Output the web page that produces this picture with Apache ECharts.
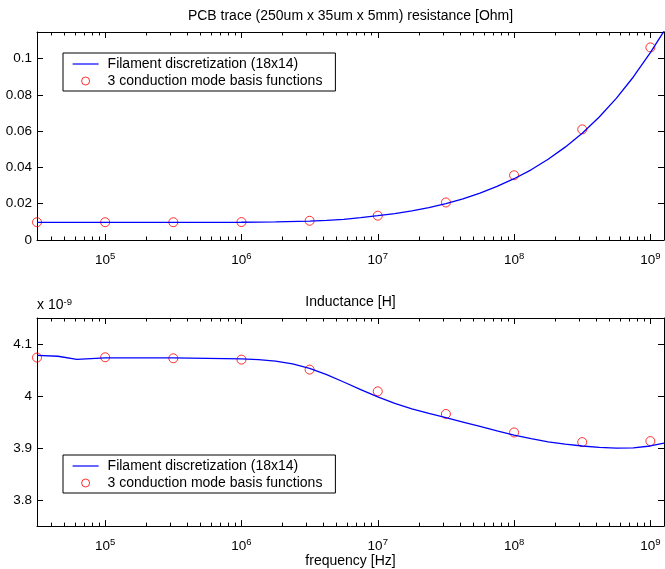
<!DOCTYPE html>
<html><head><meta charset="utf-8">
<script src="https://cdn.jsdelivr.net/npm/echarts@6/dist/echarts.min.js"></script>
<style>html,body{margin:0;padding:0;background:#fff}#c{width:665px;height:569px}</style>
</head><body><div id="c"></div>
<script>
// ---- data ----
const resFreq = [3.1623e4, 1e5, 3.1623e5, 1e6, 1.7783e6, 3.1623e6, 4.2170e6, 5.6234e6, 7.4989e6, 1e7, 1.3335e7, 1.7783e7, 2.3714e7, 3.1623e7, 4.2170e7, 5.6234e7, 7.4989e7, 1e8, 1.3335e8, 1.7783e8, 2.3714e8, 3.1623e8, 4.2170e8, 5.6234e8, 7.4989e8, 1e9, 1.2589e9];
const resLine = [0.0097, 0.0097, 0.0097, 0.0098, 0.0100, 0.0104, 0.0108, 0.0114, 0.0123, 0.0134, 0.0146, 0.0161, 0.0179, 0.0200, 0.0227, 0.0259, 0.0296, 0.0338, 0.0387, 0.0445, 0.0512, 0.0589, 0.0678, 0.0781, 0.0899, 0.1033, 0.1152];
const indFreq = [3.1623e4, 4.5e4, 6.2e4, 1e5, 3.1623e5, 1e6, 1.3335e6, 1.7783e6, 2.3714e6, 3.1623e6, 4.2170e6, 5.6234e6, 7.4989e6, 1e7, 1.3335e7, 1.7783e7, 2.3714e7, 3.1623e7, 4.2170e7, 5.6234e7, 7.4989e7, 1e8, 1.3335e8, 1.7783e8, 2.3714e8, 3.1623e8, 4.2170e8, 5.6234e8, 7.4989e8, 1e9, 1.2589e9];
const indLine = [4.078, 4.0765, 4.0705, 4.0735, 4.0733, 4.0715, 4.0700, 4.0670, 4.0620, 4.0530, 4.0410, 4.0270, 4.0125, 3.9985, 3.9860, 3.9755, 3.9665, 3.9585, 3.9500, 3.9415, 3.9330, 3.9250, 3.9180, 3.9120, 3.9075, 3.9040, 3.9012, 3.8998, 3.9005, 3.9040, 3.9095];
const modeFreq = [3.1623e4, 1e5, 3.1623e5, 1e6, 3.1623e6, 1e7, 3.1623e7, 1e8, 3.1623e8, 1e9];
const resModes = [0.0098, 0.0098, 0.0098, 0.0099, 0.0106, 0.0134, 0.0207, 0.0357, 0.0610, 0.1062];
const indModes = [4.074, 4.0745, 4.0726, 4.070, 4.0508, 4.009, 3.9655, 3.930, 3.9115, 3.9134];
const xMajor = [1e5, 1e6, 1e7, 1e8, 1e9];
const resTicks = [0, 0.02, 0.04, 0.06, 0.08, 0.1];
const indTicks = [3.8, 3.9, 4, 4.1];
const lineName = 'Filament discretization (18x14)';
const modeName = '3 conduction mode basis functions';
const title1 = 'PCB trace (250um x 35um x 5mm) resistance [Ohm]';
const title2 = 'Inductance [H]';
const xName = 'frequency [Hz]';

const xMin = 31622.78, xMax = 1.2589e9;
const xMinor = [];
for (let e = 4; e <= 9; e++) for (let m = 2; m <= 9; m++) { const v = m * Math.pow(10, e); if (v > xMin && v < xMax) xMinor.push(v); }

const font = '"Liberation Sans", Arial, Helvetica, sans-serif';
const txt = {color: '#000', fontFamily: font, fontSize: 14};
const tickTxt = {color: '#000', fontFamily: font, fontSize: 13.5};
const supTxt = {color: '#000', fontFamily: font, fontSize: 9.5, lineHeight: 2, verticalAlign: 'top'};

function xAx(g, pos, ticks, len, labels, line, extra) {
  return Object.assign({
    type: 'log', logBase: 10, gridIndex: g, position: pos, min: xMin, max: xMax,
    axisLine: {show: line, onZero: false, lineStyle: {color: '#000', width: 1}},
    axisTick: {show: true, inside: true, length: len, customValues: ticks, lineStyle: {color: '#000', width: 1}},
    axisLabel: {show: labels, customValues: ticks, margin: 11,
      formatter: v => '{b|10}{s|' + Math.round(Math.log10(v)) + '}',
      rich: {b: Object.assign({lineHeight: 18}, tickTxt), s: supTxt}},
    splitLine: {show: false}, minorTick: {show: false}, minorSplitLine: {show: false}
  }, extra || {});
}
function yAx(g, pos, min, max, ticks, labels, extra) {
  return Object.assign({
    type: 'value', gridIndex: g, position: pos, min: min, max: max,
    axisLine: {show: true, onZero: false, lineStyle: {color: '#000', width: 1}},
    axisTick: {show: true, inside: true, length: 6, customValues: ticks, lineStyle: {color: '#000', width: 1}},
    axisLabel: Object.assign({show: labels, customValues: ticks, margin: 5}, tickTxt),
    splitLine: {show: false}
  }, extra || {});
}
function legendAt(top) {
  return {data: [lineName, modeName], orient: 'vertical', left: 63, top: top, padding: [4, 13, 3, 9], itemGap: 3,
    itemWidth: 26, itemHeight: 8, borderColor: '#000', borderWidth: 1, backgroundColor: '#fff', borderRadius: 0,
    itemStyle: {borderWidth: 1}, lineStyle: {width: 1.2},
    textStyle: Object.assign({padding: [0, 0, 0, 4]}, txt), selectedMode: false};
}

const option = {
  animation: false,
  backgroundColor: '#fff',
  grid: [
    {left: 37, right: 1, top: 32, bottom: 329, containLabel: false},
    {left: 37, right: 1, top: 318, bottom: 41, containLabel: false}
  ],
  xAxis: [
    xAx(0, 'bottom', xMajor, 6, true, true),
    xAx(0, 'bottom', xMinor, 3.5, false, false),
    xAx(0, 'top', xMajor, 6, false, true, {name: title1, nameLocation: 'middle', nameGap: 9, nameTextStyle: txt}),
    xAx(0, 'top', xMinor, 3.5, false, false),
    xAx(1, 'bottom', xMajor, 6, true, true, {name: xName, nameLocation: 'middle', nameGap: 27, nameTextStyle: txt}),
    xAx(1, 'bottom', xMinor, 3.5, false, false),
    xAx(1, 'top', xMajor, 6, false, true, {name: title2, nameLocation: 'middle', nameGap: 9, nameTextStyle: txt}),
    xAx(1, 'top', xMinor, 3.5, false, false)
  ],
  yAxis: [
    yAx(0, 'left', 0, 0.1147, resTicks, true),
    yAx(0, 'right', 0, 0.1147, resTicks, false),
    yAx(1, 'left', 3.75, 4.15, indTicks, true, {name: '{b|x 10}{s|-9}', nameLocation: 'end', nameGap: 5,
      nameTextStyle: Object.assign({align: 'left', rich: {b: Object.assign({lineHeight: 16}, txt), s: supTxt}}, txt)}),
    yAx(1, 'right', 3.75, 4.15, indTicks, false)
  ],
  legend: [legendAt(53), legendAt(455)],
  series: [
    {name: modeName, type: 'scatter', xAxisIndex: 0, yAxisIndex: 0, data: modeFreq.map((f, i) => [f, resModes[i]]),
     symbol: 'circle', symbolSize: 9, itemStyle: {color: 'transparent', borderColor: '#ff0000', borderWidth: 1}, z: 2},
    {name: lineName, type: 'line', xAxisIndex: 0, yAxisIndex: 0, data: resFreq.map((f, i) => [f, resLine[i]]),
     symbol: 'none', lineStyle: {color: '#0000ff', width: 1.3}, itemStyle: {color: 'transparent', borderWidth: 0}, z: 3},
    {name: modeName, type: 'scatter', xAxisIndex: 4, yAxisIndex: 2, data: modeFreq.map((f, i) => [f, indModes[i]]),
     symbol: 'circle', symbolSize: 9, itemStyle: {color: 'transparent', borderColor: '#ff0000', borderWidth: 1}, z: 2},
    {name: lineName, type: 'line', xAxisIndex: 4, yAxisIndex: 2, data: indFreq.map((f, i) => [f, indLine[i]]),
     symbol: 'none', lineStyle: {color: '#0000ff', width: 1.3}, itemStyle: {color: 'transparent', borderWidth: 0}, z: 3}
  ]
};
const chart = echarts.init(document.getElementById('c'), null, {renderer: 'canvas'});
chart.setOption(option);
</script>
</body></html>
